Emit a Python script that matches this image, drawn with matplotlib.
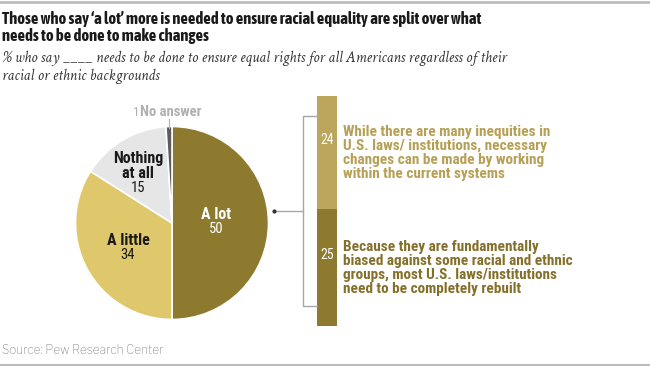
import matplotlib

matplotlib.use("Agg")
import matplotlib.pyplot as plt
from matplotlib.lines import Line2D

W, H = 650, 367

# pie data (clockwise from 12 o'clock)
pie_labels = ["A lot", "A little", "Nothing\nat all", "No answer"]
pie_values = [50, 34, 15, 1]
pie_colors = ["#8e7a2f", "#dfc86b", "#e6e6e6", "#5c5c5c"]

# stacked bar breaking down "A lot"
bar_labels = ["Because they are fundamentally\nbiased against some racial and ethnic\n"
              "groups, most U.S. laws/institutions\nneed to be completely rebuilt",
              "While there are many inequities in\nU.S. laws/ institutions, necessary\n"
              "changes can be made by working\nwithin the current systems"]
bar_values = [25, 24]
bar_colors = ["#8e7a2f", "#bba65c"]
text_colors = ["#84702a", "#b5a055"]

TITLE = ("Those who say \u2018a lot\u2019 more is needed to ensure racial equality are split over what\n"
         "needs to be done to make changes")
SUBTITLE = ("% who say ____ needs to be done to ensure equal rights for all Americans regardless of their\n"
            "racial or ethnic backgrounds")
SOURCE = "Source: Pew Research Center"

HEAD = ["Asap Condensed", "Roboto Condensed", "DejaVu Sans"]
COND = ["Roboto Condensed", "Archivo Narrow", "Roboto", "DejaVu Sans"]
SERIF = ["Crimson Text", "Cormorant Garamond", "Liberation Serif", "DejaVu Serif"]
PLAIN = ["Libre Franklin", "Lato", "DejaVu Sans"]

fig = plt.figure(figsize=(W / 100, H / 100), dpi=100)

# overlay axes in pixel coordinates for text and lines
ov = fig.add_axes([0, 0, 1, 1])
ov.set_xlim(0, W)
ov.set_ylim(H, 0)
ov.axis("off")
ov.set_zorder(5)

ov.plot([0, W], [1.5, 1.5], color="#bdbdbd", lw=2)
ov.plot([0, W], [365, 365], color="#bdbdbd", lw=1.5)

ov.text(2, 11, TITLE, fontsize=12, fontweight="bold", family=HEAD,
        color="#1a1a1a", va="top", linespacing=1.1)
ov.text(2, 51, SUBTITLE, fontsize=11.2, style="italic", family=SERIF,
        color="#333333", va="top", linespacing=1.2)
ov.text(2, 350, SOURCE, fontsize=8.5, family=PLAIN, color="#8c8c8c", va="center")

# pie
cx, cy, r = 172, 223, 96.5
pax = fig.add_axes([(cx - r) / W, (H - cy - r) / H, 2 * r / W, 2 * r / H])
pax.pie(pie_values, colors=pie_colors, startangle=90, counterclock=False,
        wedgeprops=dict(edgecolor="white", linewidth=1.2))
pax.set_xlim(-1, 1)
pax.set_ylim(-1, 1)
pax.axis("off")

ov.text(216, 222, pie_labels[0], fontsize=11.5, fontweight="bold", family=COND,
        color="white", ha="center", va="bottom")
ov.text(216, 222, str(pie_values[0]), fontsize=10.5, family=COND,
        color="white", ha="center", va="top")
ov.text(128, 248, pie_labels[1], fontsize=11.5, fontweight="bold", family=COND,
        color="#1a1a1a", ha="center", va="bottom")
ov.text(128, 248, str(pie_values[1]), fontsize=10.5, family=COND,
        color="#1a1a1a", ha="center", va="top")
ov.text(138, 181, pie_labels[2], fontsize=11.5, fontweight="bold", family=COND,
        color="#1a1a1a", ha="center", va="bottom", linespacing=1.0)
ov.text(138, 181, str(pie_values[2]), fontsize=10.5, family=COND,
        color="#1a1a1a", ha="center", va="top")
ov.text(133, 112, f"{pie_values[3]}", fontsize=9.5, family=COND,
        color="#b0b0b0", ha="left", va="center")
ov.text(140, 112, pie_labels[3], fontsize=10.5, fontweight="bold", family=COND,
        color="#b0b0b0", ha="left", va="center")
ov.plot([168.5, 168.5], [119, 128], color="#b0b0b0", lw=0.8)

# stacked bar
bx0, bx1, by0, by1 = 317, 337, 96, 326
bax = fig.add_axes([bx0 / W, (H - by1) / H, (bx1 - bx0) / W, (by1 - by0) / H])
bottom = 0
for val, col in zip(bar_values, bar_colors):
    bax.bar(0, val, bottom=bottom, width=1, color=col)
    bax.text(0, bottom + val / 2 + 2.6, str(val), color="white", fontsize=10,
             family=COND, ha="center", va="center")
    bottom += val
bax.set_xlim(-0.5, 0.5)
bax.set_ylim(0, sum(bar_values))
bax.axis("off")

ov.text(343, 268, bar_labels[0], fontsize=11, fontweight="bold", family=COND,
        color=text_colors[0], va="center", linespacing=1.0)
ov.text(343, 153, bar_labels[1], fontsize=11, fontweight="bold", family=COND,
        color=text_colors[1], va="center", linespacing=1.0)

# bracket linking pie to bar
gray = "#a6a6a6"
ov.add_line(Line2D([317, 303, 303, 317], [116, 116, 306, 306], color=gray, lw=1))
ov.add_line(Line2D([274, 303], [211, 211], color=gray, lw=1))
ov.plot([274], [211], marker="o", ms=2, color="#333333")

fig.savefig("out.png", dpi=100)
